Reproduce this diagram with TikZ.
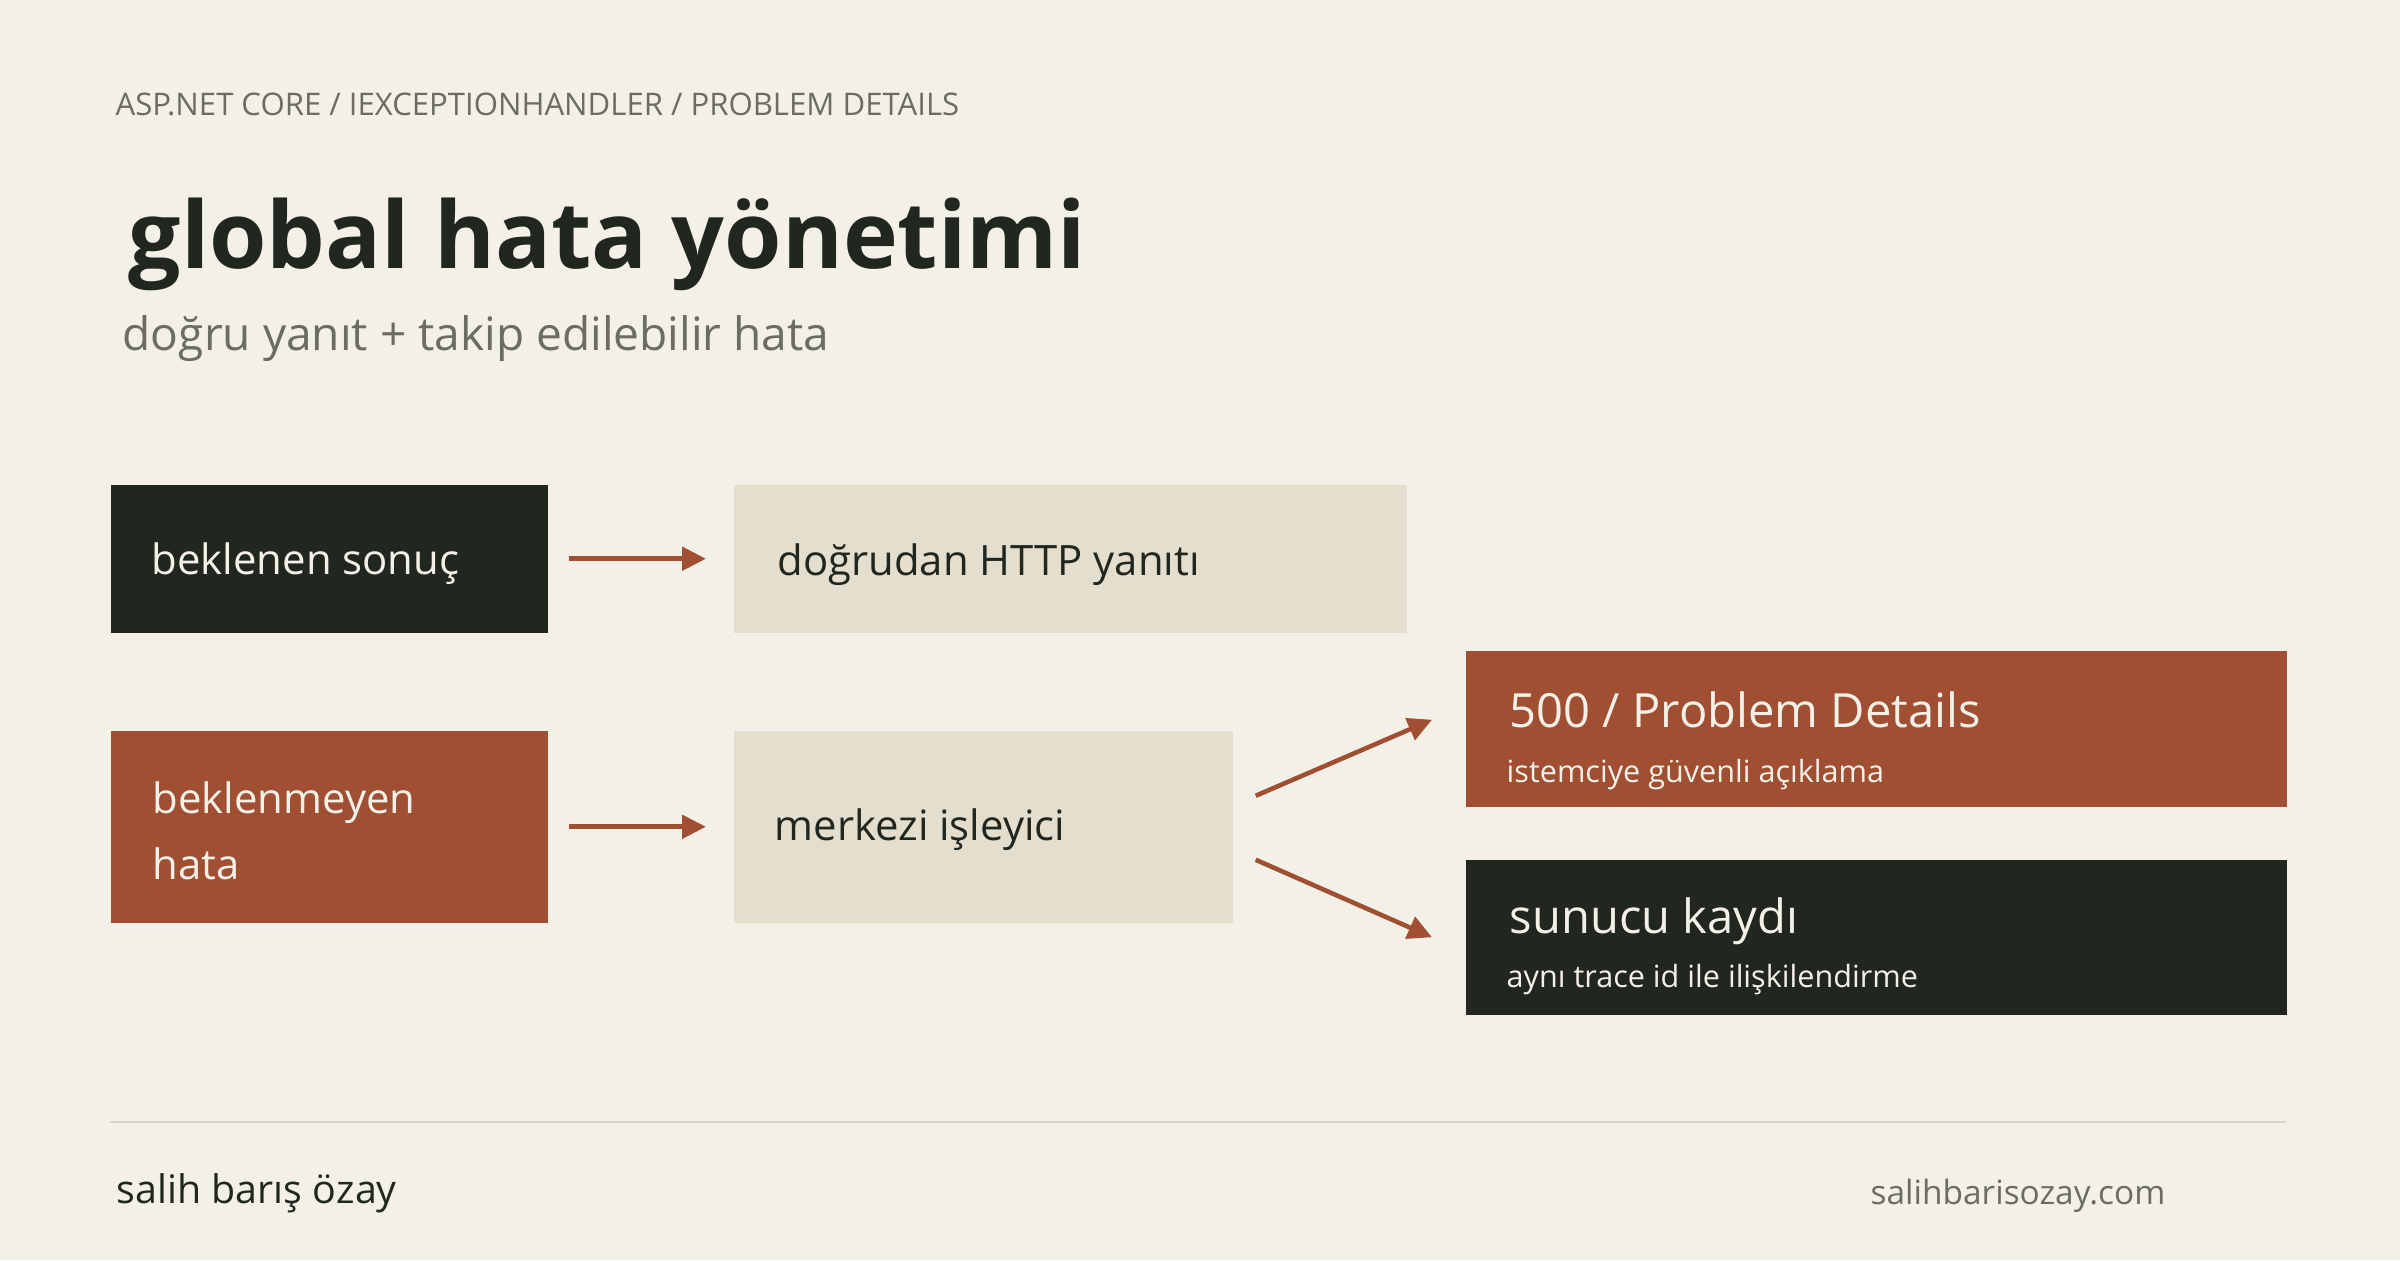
\documentclass[tikz,border=0pt]{standalone}
\usepackage{xcolor}
\usepackage{fontspec}
\setmainfont{Open Sans}
\usepackage{tikz}
\usetikzlibrary{arrows.meta}

\definecolor{paper}{HTML}{F3F0E8}
\definecolor{ink}{HTML}{21271F}
\definecolor{rust}{HTML}{A04F32}
\definecolor{sand}{HTML}{E3DECE}
\definecolor{muted}{HTML}{6B6C62}
\definecolor{rulecol}{HTML}{D9D5C5}

\begin{document}
\begin{tikzpicture}[
			x=0.01cm, y=-0.01cm,
			box/.style={rectangle, inner sep=0pt, anchor=north west},
			inkbox/.style={box, fill=ink},
			rustbox/.style={box, fill=rust},
			sandbox/.style={box, fill=sand},
			txt/.style={inner sep=0pt, anchor=base west},
			boxtext/.style={txt, font=\fontsize{11.9}{14}\selectfont},
			bigtext/.style={txt, font=\fontsize{13.4}{16}\selectfont, text=paper},
			smalltext/.style={txt, font=\fontsize{8.7}{11}\selectfont, text=paper},
			flow/.style={draw=rust, line width=1.3pt, -{Triangle[length=6.8pt,width=6.6pt]}},
			>=stealth
			]
			
			\fill[paper] (0,0) rectangle (2400,1260);
			\useasboundingbox (0,0) rectangle (2400,1260);
			
			% header
			\node[txt, text=muted, font=\fontsize{8.85}{10}\selectfont] (kicker) at (115,115) {ASP.NET CORE / IEXCEPTIONHANDLER / PROBLEM DETAILS};
			\node[txt, text=ink, font=\fontsize{26.4}{31}\selectfont\bfseries] (title) at (128,268) {global hata yönetimi};
			\node[txt, text=muted, font=\fontsize{13.1}{16}\selectfont] (subtitle) at (122,350) {doğru yanıt + takip edilebilir hata};
			
			% the two paths
			\node[inkbox, minimum width=4.37cm, minimum height=1.48cm] (ok) at (110,484) {};
			\node[sandbox, minimum width=6.73cm, minimum height=1.48cm] (http) at (733,484) {};
			\node[rustbox, minimum width=4.37cm, minimum height=1.92cm] (err) at (110,730) {};
			\node[sandbox, minimum width=4.99cm, minimum height=1.92cm] (handler) at (733,730) {};
			\node[rustbox, minimum width=8.21cm, minimum height=1.56cm] (pd) at (1465,650) {};
			\node[inkbox, minimum width=8.21cm, minimum height=1.55cm] (log) at (1465,859) {};
			
			\node[boxtext, text=paper] (okT) at ([shift={(41,90)}]ok.north west) {beklenen sonuç};
			\node[boxtext, text=ink] (httpT) at ([shift={(44,91)}]http.north west) {doğrudan HTTP yanıtı};
			\node[boxtext, text=paper] (errT) at ([shift={(42,83)}]err.north west) {beklenmeyen};
			\node[boxtext, text=paper] (errT2) at ([shift={(42,149)}]err.north west) {hata};
			\node[boxtext, text=ink] (handlerT) at ([shift={(41,110)}]handler.north west) {merkezi işleyici};
			\node[bigtext] (pdT) at ([shift={(44,77)}]pd.north west) {500 / Problem Details};
			\node[smalltext] (pdS) at ([shift={(41,132)}]pd.north west) {istemciye güvenli açıklama};
			\node[bigtext] (logT) at ([shift={(44,74)}]log.north west) {sunucu kaydı};
			\node[smalltext] (logS) at ([shift={(41,128)}]log.north west) {aynı trace id ile ilişkilendirme};
			
			\draw[flow, shorten <=5.7pt, shorten >=7.7pt] (ok.east) -- (http.west);
			\draw[flow, shorten <=5.7pt, shorten >=7.7pt] (err.east) -- (handler.west);
			\draw[flow] ([shift={(22,-31)}]handler.east) -- ([shift={(-33,-9)}]pd.west);
			\draw[flow] ([shift={(22,33)}]handler.east) -- ([shift={(-33,0)}]log.west);
			
			% footer
			\coordinate (ruleL) at (110,1122);
			\coordinate (ruleR) at (2286,1122);
			\draw[rulecol, line width=0.6pt] (ruleL) -- (ruleR);
			\node[txt, text=ink, font=\fontsize{11.2}{13}\selectfont] (author) at (116,1203) {salih barış özay};
			\node[txt, anchor=base east, text=muted, font=\fontsize{9.5}{11}\selectfont] (site) at (2166,1204) {salihbarisozay.com};
		\end{tikzpicture}
\end{document}
